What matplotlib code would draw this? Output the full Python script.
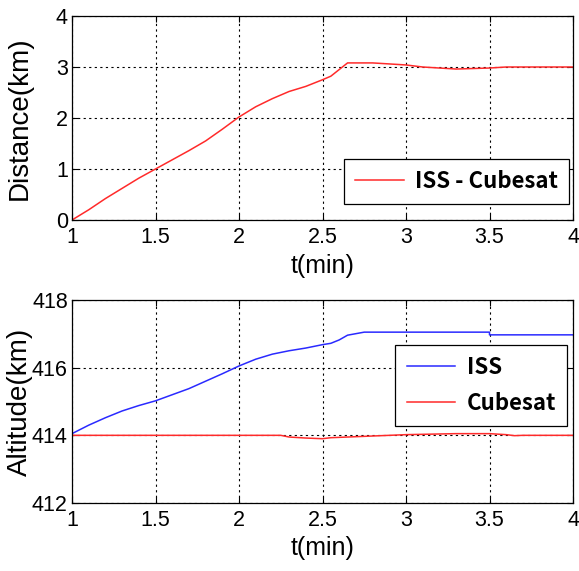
import matplotlib.pyplot as plt

# distance between ISS and Cubesat (km)
t_dist = [1.0, 1.1, 1.2, 1.3, 1.4, 1.5, 1.6, 1.7, 1.8, 1.9, 2.0, 2.1, 2.2, 2.3,
          2.4, 2.5, 2.55, 2.6, 2.65, 2.8, 2.9, 3.0, 3.1, 3.2, 3.3, 3.4, 3.5,
          3.6, 3.8, 4.0]
dist = [0.0, 0.2, 0.42, 0.62, 0.82, 1.0, 1.18, 1.36, 1.55, 1.78, 2.02, 2.22,
        2.38, 2.52, 2.62, 2.75, 2.82, 2.95, 3.08, 3.08, 3.06, 3.04, 3.0, 2.98,
        2.96, 2.97, 2.98, 3.0, 3.0, 3.0]

# altitudes (km)
t_alt = [1.0, 1.1, 1.2, 1.3, 1.4, 1.5, 1.6, 1.7, 1.8, 1.9, 2.0, 2.1, 2.2, 2.3,
         2.4, 2.5, 2.55, 2.6, 2.65, 2.75, 3.0, 3.5, 3.5, 4.0]
alt_iss = [414.05, 414.3, 414.52, 414.72, 414.88, 415.02, 415.2, 415.38, 415.6,
           415.82, 416.05, 416.25, 416.4, 416.5, 416.58, 416.68, 416.72, 416.82,
           416.96, 417.05, 417.05, 417.05, 416.97, 416.97]
t_cube = [1.0, 1.5, 2.0, 2.25, 2.3, 2.4, 2.5, 2.55, 2.75, 3.0, 3.3, 3.5, 3.6,
          3.65, 3.7, 4.0]
alt_cube = [414.0, 414.0, 414.0, 414.0, 413.95, 413.92, 413.9, 413.93, 413.97,
            414.02, 414.05, 414.05, 414.02, 413.99, 414.0, 414.0]

plt.rcParams.update({
    "font.family": ["Liberation Sans", "DejaVu Sans"],
    "font.size": 15.5,
})

fig = plt.figure(figsize=(5.79, 5.71), dpi=100)
W, H = 579, 571
ax1 = fig.add_axes([72 / W, 1 - 220 / H, 501 / W, 204 / H])
ax2 = fig.add_axes([72 / W, 1 - 503 / H, 501 / W, 203 / H])

ax1.plot(t_dist, dist, color="#ff2a2a", lw=1.1, label="ISS - Cubesat")
ax1.set_ylim(0, 4)
ax1.set_yticks([0, 1, 2, 3, 4])
ax1.set_ylabel("Distance(km)", fontsize=20)

ax2.plot(t_alt, alt_iss, color="#2a2aff", lw=1.1, label="ISS")
ax2.plot(t_cube, alt_cube, color="#ff2a2a", lw=1.1, label="Cubesat")
ax2.set_ylim(412, 418)
ax2.set_yticks([412, 414, 416, 418])
ax2.set_ylabel("Altitude(km)", fontsize=20)

for ax in (ax1, ax2):
    ax.set_xlim(1, 4)
    ax.set_xticks([1, 1.5, 2, 2.5, 3, 3.5, 4])
    ax.set_xticklabels(["1", "1.5", "2", "2.5", "3", "3.5", "4"])
    ax.set_xlabel("t(min)", fontsize=18, labelpad=4)
    ax.grid(True, color="black", linestyle=(0, (2, 3)), linewidth=0.8)
    ax.tick_params(direction="in", length=4, width=0.8, pad=3)
    ax.tick_params(axis="x", pad=5)
    ax.tick_params(top=True, right=True)
    ax.yaxis.set_label_coords(-0.078, 0.5)
    for s in ax.spines.values():
        s.set_linewidth(0.9)

leg_kw = dict(prop={"family": "Noto Sans CJK KR", "weight": "bold", "size": 16},
              fancybox=False, edgecolor="black", framealpha=1,
              handlelength=2.2, borderpad=0.5, labelspacing=0.6,
              handletextpad=0.5, borderaxespad=0)
l1 = ax1.legend(loc="lower right", bbox_to_anchor=(0.992, 0.078), **leg_kw)
l2 = ax2.legend(loc="upper right", bbox_to_anchor=(0.988, 0.78), **leg_kw)
for l in (l1, l2):
    l.get_frame().set_linewidth(0.9)

fig.savefig("out.png", dpi=100)
